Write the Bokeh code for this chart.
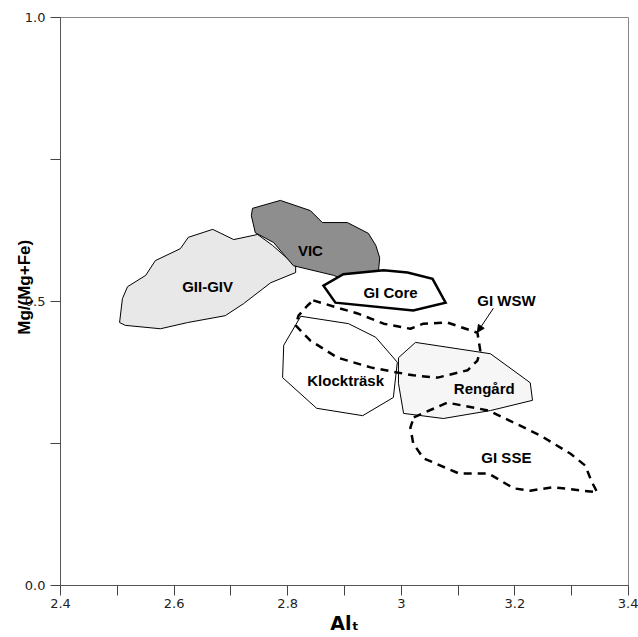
from bokeh.plotting import figure
from bokeh.models import Range1d, FixedTicker, Arrow, NormalHead
from bokeh.core.properties import value
from bokeh.embed import file_html
from bokeh.resources import INLINE

# ---- data ----
gii_x = [2.504, 2.514, 2.576, 2.624, 2.690, 2.722, 2.770, 2.814, 2.814, 2.773, 2.747, 2.705, 2.668, 2.625, 2.611, 2.567, 2.550, 2.518, 2.509]
gii_y = [0.463, 0.458, 0.452, 0.463, 0.475, 0.496, 0.533, 0.551, 0.563, 0.599, 0.618, 0.609, 0.627, 0.613, 0.593, 0.572, 0.546, 0.526, 0.505]

vic_x = [2.738, 2.787, 2.840, 2.861, 2.905, 2.942, 2.955, 2.962, 2.960, 2.911, 2.881, 2.810, 2.775, 2.743, 2.736]
vic_y = [0.664, 0.678, 0.660, 0.639, 0.639, 0.620, 0.599, 0.577, 0.555, 0.533, 0.546, 0.563, 0.604, 0.621, 0.651]

core_x = [2.863, 2.898, 2.969, 3.011, 3.055, 3.078, 3.021, 2.884]
core_y = [0.528, 0.548, 0.555, 0.551, 0.540, 0.498, 0.484, 0.498]

klock_x = [2.823, 2.907, 2.955, 2.993, 2.986, 2.932, 2.851, 2.791, 2.793]
klock_y = [0.474, 0.461, 0.437, 0.393, 0.331, 0.299, 0.312, 0.366, 0.423]

reng_x = [2.995, 3.025, 3.157, 3.227, 3.231, 3.157, 3.074, 3.004, 2.995]
reng_y = [0.401, 0.428, 0.408, 0.357, 0.326, 0.308, 0.294, 0.303, 0.356]

wsw_x = [2.845, 2.888, 2.923, 2.969, 3.016, 3.039, 3.081, 3.134, 3.139, 3.134, 3.117, 3.064, 3.021, 2.993, 2.946, 2.888, 2.840, 2.814, 2.819, 2.835, 2.845]
wsw_y = [0.502, 0.489, 0.479, 0.461, 0.452, 0.461, 0.463, 0.445, 0.414, 0.396, 0.379, 0.366, 0.370, 0.375, 0.384, 0.401, 0.431, 0.458, 0.475, 0.493, 0.502]

sse_x = [3.022, 3.081, 3.154, 3.245, 3.298, 3.324, 3.335, 3.345, 3.268, 3.227, 3.198, 3.154, 3.102, 3.039, 3.021, 3.016, 3.022]
sse_y = [0.296, 0.322, 0.308, 0.264, 0.232, 0.211, 0.183, 0.164, 0.173, 0.167, 0.171, 0.197, 0.197, 0.224, 0.250, 0.278, 0.296]

label_text = ["GII-GIV", "VIC", "GI Core", "GI WSW", "Klockträsk", "Rengård", "GI SSE"]
label_x = [2.659, 2.840, 2.981, 3.185, 2.902, 3.146, 3.185]
label_y = [0.526, 0.590, 0.516, 0.502, 0.361, 0.347, 0.225]

arrow_start = (3.162, 0.488)
arrow_end = (3.134, 0.446)

x_ticks = [2.4, 2.6, 2.8, 3.0, 3.2, 3.4]
x_tick_labels = ["2.4", "2.6", "2.8", "3", "3.2", "3.4"]
x_minor = [2.5, 2.7, 2.9, 3.1, 3.3]
y_ticks = [0.0, 0.5, 1.0]
y_tick_labels = ["0.0", "0.5", "1.0"]
y_minor = [0.25, 0.75]

x_title = "Al\u209c"            # Al with subscript t
y_title = "\u00a0" * 6 + "Mg/(Mg+Fe)"   # leading no-break spaces shift it up a little

# ---- figure ----
p = figure(width=638, height=637, output_backend="svg", toolbar_location=None,
           x_range=Range1d(2.4, 3.4), y_range=Range1d(0, 1),
           min_border_left=60, min_border_right=10, min_border_top=17, min_border_bottom=52)
p.grid.visible = False
p.outline_line_color = "#888888"
p.background_fill_color = "white"
p.border_fill_color = "white"

for ax, ticks, minor, labels in ((p.xaxis[0], x_ticks, x_minor, x_tick_labels),
                                 (p.yaxis[0], y_ticks, y_minor, y_tick_labels)):
    ax.ticker = FixedTicker(ticks=ticks, minor_ticks=minor)
    ax.major_label_overrides = {t: l for t, l in zip(ticks, labels)}
    ax.major_tick_out = 10
    ax.major_tick_in = 0
    ax.minor_tick_out = 10
    ax.minor_tick_in = 0
    ax.axis_line_color = "#555555"
    ax.major_tick_line_color = "#444444"
    ax.minor_tick_line_color = "#444444"
    ax.major_label_text_font = "DejaVu Sans"
    ax.major_label_text_font_size = "13px"
    ax.major_label_text_color = "#222222"
    ax.axis_label_text_font_style = "bold"
    ax.axis_label_text_color = "black"
p.xaxis.major_label_standoff = 3
p.yaxis.major_label_standoff = 5

p.yaxis.axis_label = y_title
p.yaxis.axis_label_text_font = "Liberation Sans"
p.yaxis.axis_label_text_font_size = "17px"
p.yaxis.axis_label_standoff = -12

p.xaxis.axis_label = x_title
p.xaxis.axis_label_text_font = "DejaVu Sans"
p.xaxis.axis_label_text_font_size = "19px"
p.xaxis.axis_label_standoff = 1

# ---- regions ----
p.patch(gii_x, gii_y, fill_color="#e8e8e8", line_color="black", line_width=1)
p.patch(vic_x, vic_y, fill_color="#8e8e8e", line_color="black", line_width=1)
p.patch(klock_x, klock_y, fill_color="white", line_color="black", line_width=1)
p.patch(reng_x, reng_y, fill_color="#f6f6f6", line_color="black", line_width=1)
p.patch(core_x, core_y, fill_color="white", line_color="black", line_width=2.5, line_join="miter")
p.line(wsw_x, wsw_y, line_color="black", line_width=2.5, line_dash="8 6")
p.line(sse_x, sse_y, line_color="black", line_width=2.5, line_dash="8 6")

p.add_layout(Arrow(x_start=arrow_start[0], y_start=arrow_start[1], x_end=arrow_end[0], y_end=arrow_end[1],
                   line_color="black", line_width=1,
                   end=NormalHead(size=7, fill_color="black", line_color="black")))

p.text(x=label_x, y=label_y, text=label_text, text_font=value("Liberation Sans"),
       text_font_style="bold", text_font_size="15px", text_align="center",
       text_baseline="middle", text_color="black")

open("out.html", "w").write(file_html(p, INLINE))
